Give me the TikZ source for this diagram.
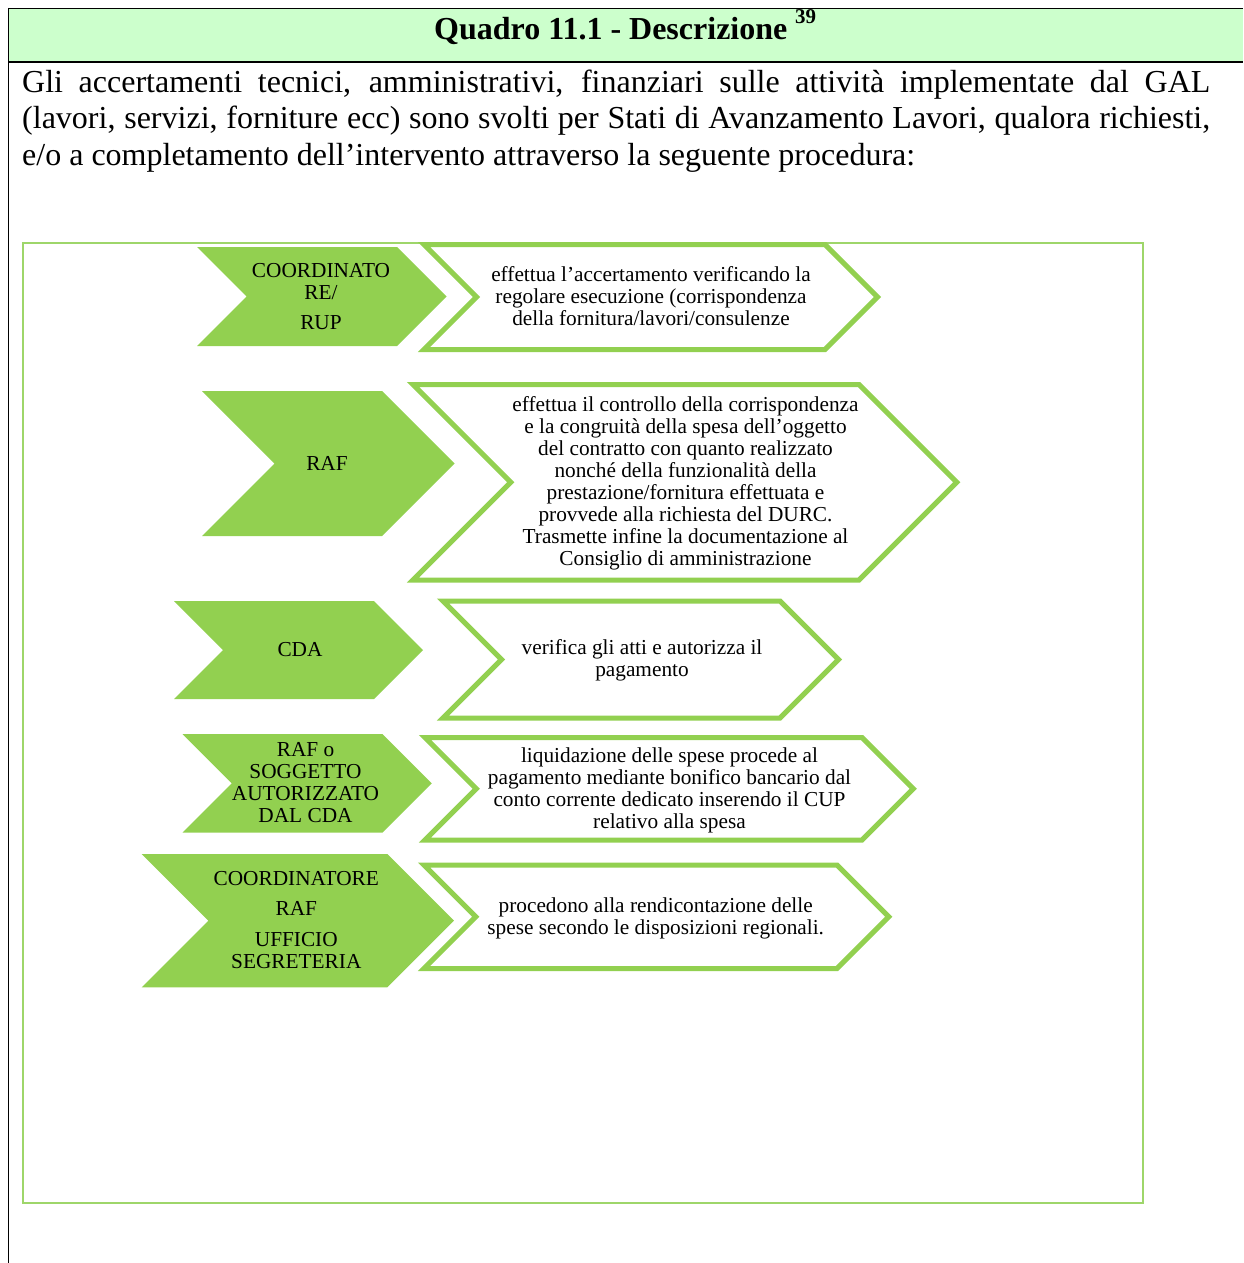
\documentclass[tikz,border=0pt]{standalone}
\usepackage{fontspec}
\setmainfont{Liberation Serif}
\definecolor{cgreen}{HTML}{92D050}
\definecolor{hdr}{HTML}{CCFFCC}
\definecolor{framegreen}{HTML}{9ED66A}
\newcommand\greenchev[4]{\fill[cgreen] (#1,#3) -- (#2,#3) -- ({#2+(#4-#3)/2},{(#3+#4)/2}) -- (#2,#4) -- (#1,#4) -- ({#1+(#4-#3)/2},{(#3+#4)/2}) -- cycle;}
\newcommand\whitechev[4]{\filldraw[fill=white,draw=cgreen,line width=5pt,miter limit=10] (#1,#3) -- (#2,#3) -- ({#2+(#4-#3)/2},{(#3+#4)/2}) -- (#2,#4) -- (#1,#4) -- ({#1+(#4-#3)/2},{(#3+#4)/2}) -- cycle;}
\begin{document}
\begin{tikzpicture}[x=1pt,y=-1pt,
  chevtext/.style={align=center,anchor=base,inner sep=0pt,font=\fontsize{21.3}{22}\selectfont},
  bodytext/.style={anchor=base west,inner sep=0pt,font=\fontsize{32}{36.5}\selectfont}]
\useasboundingbox (0,0) rectangle (1243,1263);
% header
\fill[hdr] (8.5,8.5) rectangle (1243,62);
\draw[line width=1.5pt] (8.5,8.5) -- (1243,8.5);
\draw[line width=1.5pt] (8.5,62) -- (1243,62);
\draw[line width=1.5pt] (8.5,8) -- (8.5,1263);
\node[anchor=base west,inner sep=0pt,font=\bfseries\fontsize{32}{36}\selectfont] (title) at (434,40) {Quadro 11.1 - Descrizione};
\node[anchor=base west,inner sep=0pt,font=\bfseries\fontsize{21}{21}\selectfont] (fn) at (795,24) {39};
% paragraph
\node[bodytext] (l1) at (22,92.3) {\makebox[1188pt][s]{Gli accertamenti tecnici, amministrativi, finanziari sulle attività implementate dal GAL}};
\node[bodytext] (l2) at (22,128.5) {\makebox[1188pt][s]{(lavori, servizi, forniture ecc) sono svolti per Stati di Avanzamento Lavori, qualora richiesti,}};
\node[bodytext] (l3) at (22,165) {e/o a completamento dell’intervento attraverso la seguente procedura:};
% frame
\draw[framegreen,line width=2pt] (22.7,243) rectangle (1143,1203);
% chevrons
\greenchev{197}{397}{247}{346}
\whitechev{424}{825}{244.5}{349.5}
\greenchev{202}{382}{391}{536}
\whitechev{413}{859}{384.5}{580}
\greenchev{174}{374}{601}{699}
\whitechev{443}{780}{601}{718}
\greenchev{182.5}{382.5}{734}{832.5}
\whitechev{425}{862}{737.5}{840}
\greenchev{141.7}{387.3}{854}{987.3}
\whitechev{424}{837}{865}{968.5}
% texts (anchor = baseline of last line)
\node[chevtext] (g1) at (321,329) {COORDINATO\\RE/\\[8pt]RUP};
\node[chevtext] (g2) at (327,470) {RAF};
\node[chevtext] (g3) at (300,656.7) {CDA};
\node[chevtext] (g4) at (305.5,822.3) {RAF o\\SOGGETTO\\AUTORIZZATO\\DAL CDA};
\node[chevtext] (g5) at (296.3,968.3) {COORDINATORE\\[8pt]RAF\\[9pt]UFFICIO\\SEGRETERIA};
\node[chevtext] (w1) at (651,325.7) {effettua l’accertamento verificando la\\regolare esecuzione (corrispondenza\\della fornitura/lavori/consulenze};
\node[chevtext] (w2) at (685.5,565) {effettua il controllo della corrispondenza\\e la congruità della spesa dell’oggetto\\del contratto con quanto realizzato\\nonché della funzionalità della\\prestazione/fornitura effettuata e\\provvede alla richiesta del DURC.\\Trasmette infine la documentazione al\\Consiglio di amministrazione};
\node[chevtext] (w3) at (642,676) {verifica gli atti e autorizza il\\pagamento};
\node[chevtext] (w4) at (669.5,828.3) {liquidazione delle spese procede al\\pagamento mediante bonifico bancario dal\\conto corrente dedicato inserendo il CUP\\relativo alla spesa};
\node[chevtext] (w5) at (655.7,934.3) {procedono alla rendicontazione delle\\spese secondo le disposizioni regionali.};
\end{tikzpicture}
\end{document}
